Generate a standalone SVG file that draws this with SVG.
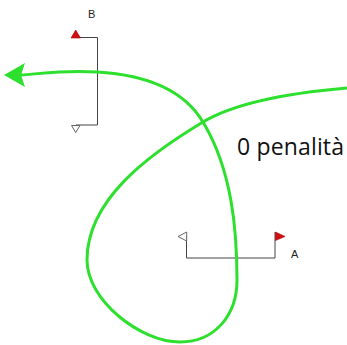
<svg xmlns="http://www.w3.org/2000/svg" width="347" height="345" viewBox="0 0 347 345">
<style>
.gate{fill:none;stroke:#444;stroke-width:1}
.red{fill:#d01010;stroke:#a00;stroke-width:0.6}
.white{fill:#fff;stroke:#666;stroke-width:1}
.lbl{font-family:"Liberation Sans",Arial,sans-serif;font-size:11px;fill:#222}
.route{fill:none;stroke:#2ee02e;stroke-width:3;stroke-linecap:round}
</style>
<rect width="347" height="345" fill="#fff"/>
<g id="gateB">
<path class="gate" d="M76,37.5 H97.5 V125 H76"/>
<polygon class="red" points="71,38 80.5,38 75.7,30"/>
<polygon class="white" points="71.5,125.5 80,125.5 75.7,132.5"/>
<text class="lbl" x="88" y="18">B</text>
</g>
<g id="gateA">
<path class="gate" d="M186.5,236 V258 H275 V232"/>
<polygon class="white" points="186.7,232 186.7,241 178,236.5"/>
<polygon class="red" points="275.5,232 285,236.5 275.5,240.5"/>
<text class="lbl" x="291" y="258">A</text>
</g>
<g id="connectors">
<path class="route" d="M347,88 C300,92 240,100 203,122 C148,155 87,200 87,260 C87,300 140,342 180,342 C215,342 237,315 237,280 C237,230 232,170 203,122 C185,92 150,75 97,72 C60,70 40,74 20,75"/>
<polygon fill="#2ee02e" points="4,75 25,63 21,75 25,87"/>
</g>
<g id="label">
<text x="237" y="155" font-family="'Open Sans','Liberation Sans',sans-serif" font-size="23" fill="#111" textLength="107">0 penalità</text>
</g>
</svg>
